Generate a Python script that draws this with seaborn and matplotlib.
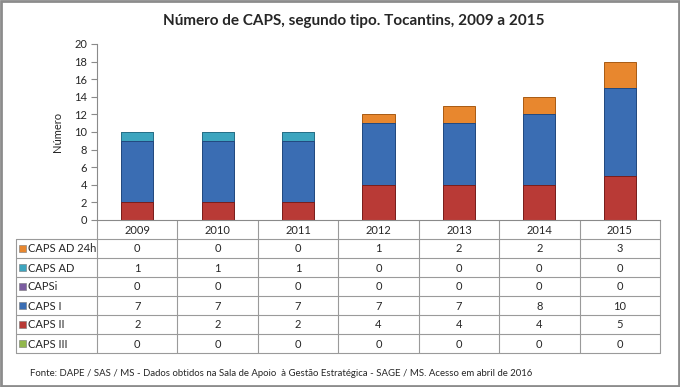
import numpy as np
import pandas as pd
import seaborn as sns
import matplotlib.pyplot as plt
from matplotlib.patches import Rectangle

sns.set_style('white')
plt.rcParams['font.family'] = ['Lato', 'DejaVu Sans']

# dados (de baixo para cima na pilha)
anos = ['2009', '2010', '2011', '2012', '2013', '2014', '2015']
caps_iii = [0, 0, 0, 0, 0, 0, 0]
caps_ii = [2, 2, 2, 4, 4, 4, 5]
caps_i = [7, 7, 7, 7, 7, 8, 10]
capsi = [0, 0, 0, 0, 0, 0, 0]
caps_ad = [1, 1, 1, 0, 0, 0, 0]
caps_ad24h = [0, 0, 0, 1, 2, 2, 3]

tipos = ['CAPS III', 'CAPS II', 'CAPS I', 'CAPSi', 'CAPS AD', 'CAPS AD 24h']
cores = ['#92B84C', '#B93A36', '#3A6DB3', '#7B5CA0', '#3DA5BF', '#E8872E']
bordas = ['#5E7A2C', '#7A1E1C', '#234A80', '#4E3870', '#24708A', '#A85A12']

df = pd.DataFrame({'Ano': anos, 'CAPS III': caps_iii, 'CAPS II': caps_ii,
                   'CAPS I': caps_i, 'CAPSi': capsi, 'CAPS AD': caps_ad,
                   'CAPS AD 24h': caps_ad24h})

W, H = 680, 387
fig = plt.figure(figsize=(W / 100, H / 100), dpi=100)

x0, x1, y_top, y_zero = 97, 660, 44, 220
ax = fig.add_axes([x0 / W, 1 - y_zero / H, (x1 - x0) / W, (y_zero - y_top) / H])

# barras empilhadas: desenha o acumulado de cima para baixo
for k in reversed(range(len(tipos))):
    acum = df[tipos[:k + 1]].sum(axis=1)
    lw = 0.7 if acum.max() > 0 else 0
    sns.barplot(x=df['Ano'], y=acum, color=cores[k], saturation=1,
                width=0.4, linewidth=lw, edgecolor=bordas[k], ax=ax)

ax.set_xlim(-0.5, len(anos) - 0.5)
ax.set_ylim(0, 20)
ax.set_yticks(range(0, 21, 2))
ax.set_xticks([])
ax.set_xlabel('')
ax.set_ylabel('Número', fontsize=8, labelpad=8)
for s in ['top', 'right']:
    ax.spines[s].set_visible(False)
ax.spines['left'].set_color('#8a8a8a')
ax.spines['bottom'].set_color('#8a8a8a')
ax.tick_params(axis='y', left=True, length=4, width=0.8, color='#8a8a8a',
               labelsize=8, pad=3)

# tabela de dados
tab = fig.add_axes([0, 0, 1, 1], zorder=-1)
tab.set_xlim(0, W)
tab.set_ylim(H, 0)
tab.axis('off')

lc = '#9a9a9a'
colw = (x1 - x0) / len(anos)
lab_x = 16
row_h = 19
hdr_bottom = y_zero + row_h
bottom = hdr_bottom + row_h * len(tipos)

for i in range(len(tipos) + 1):
    yy = hdr_bottom + i * row_h
    tab.plot([lab_x, x1], [yy, yy], color=lc, lw=0.8)
tab.plot([lab_x, lab_x], [hdr_bottom, bottom], color=lc, lw=0.8)
for j in range(len(anos) + 1):
    xx = x0 + j * colw
    tab.plot([xx, xx], [y_zero, bottom], color=lc, lw=0.8)

for j, a in enumerate(anos):
    tab.text(x0 + (j + 0.5) * colw, y_zero + row_h / 2 + 0.5, a,
             ha='center', va='center', fontsize=8)

for i, t in enumerate(tipos[::-1]):
    k = len(tipos) - 1 - i
    yc = hdr_bottom + (i + 0.5) * row_h
    tab.add_patch(Rectangle((18.5, yc - 3.5), 7, 7, facecolor=cores[k],
                            edgecolor='#777777', lw=0.4))
    tab.text(28, yc + 0.5, t, ha='left', va='center', fontsize=8)
    for j in range(len(anos)):
        tab.text(x0 + (j + 0.5) * colw, yc + 0.5, str(df[t].iloc[j]),
                 ha='center', va='center', fontsize=8)

fig.text(354 / W, 1 - 21 / H, 'Número de CAPS, segundo tipo. Tocantins, 2009 a 2015',
         ha='center', va='center', fontsize=11, fontweight='bold')
fig.text(30 / W, 1 - 373 / H,
         'Fonte: DAPE / SAS / MS - Dados obtidos na Sala de Apoio  à Gestão Estratégica - SAGE / MS. Acesso em abril de 2016',
         ha='left', va='center', fontsize=6.9)

fig.patches.append(Rectangle((0.001, 0.002), 0.997, 0.995, transform=fig.transFigure,
                             fill=False, edgecolor='#8c8c8c', lw=2))

fig.savefig('out.png', dpi=100)
